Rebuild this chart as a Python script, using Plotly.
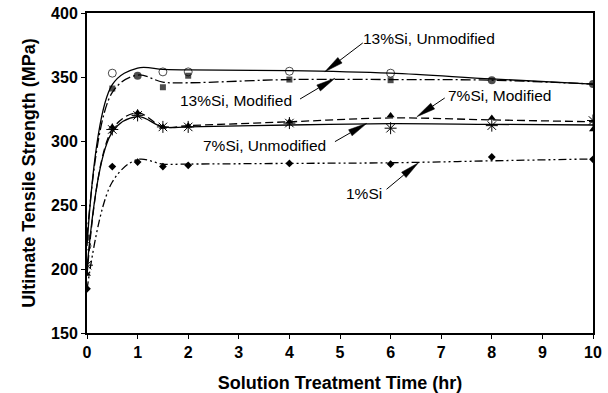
import math
import plotly.graph_objects as go

# ---- data ----
time_hr = [0, 0.5, 1, 1.5, 2, 4, 6, 8, 10]

# measured points (markers)
si13_unmod_pts = [218, 353, 356, 354, 354, 354.5, 353, 348, 344.5]
si13_mod_pts = [224.5, 341, 351, 342, 351, 348, 347.5, 347.5, 344.5]
si7_mod_pts = [196, 311, 322, 311, 312, 315, 320, 318, 309]
si7_unmod_pts = [203, 309, 320, 311, 311, 314, 310, 312, 316]
si1_pts = [184.5, 280, 283.5, 280, 281, 282.5, 282, 287.5, 285.7]

# smoothed trend curves
si13_unmod_fit = [218, 344, 357, 356, 355.5, 355, 353, 348.5, 344.5]
si13_mod_fit = [224.5, 338, 351.5, 346, 345.5, 348, 348, 347.5, 344.5]
si7_mod_fit = [195, 309, 322, 311, 312, 315, 318, 316.5, 315]
si7_unmod_fit = [200, 307, 319, 311, 311, 312.5, 313.5, 313, 312.5]
si1_fit = [184, 268, 285.5, 282, 282, 282.5, 283, 284.5, 286]

x_ticks = list(range(0, 11))
y_ticks = [150, 200, 250, 300, 350, 400]

labels = ["13%Si, Unmodified", "13%Si, Modified", "7%Si, Modified",
          "7%Si, Unmodified", "1%Si"]

X_RANGE = [0, 10]
Y_RANGE = [150, 400]
W, H = 608, 393
M = dict(l=87, r=15, t=13, b=60)

FONT = "Liberation Sans, Arial, sans-serif"
fig = go.Figure()

def curve(y, dash):
    fig.add_trace(go.Scatter(x=time_hr, y=y, mode="lines",
                             line=dict(color="black", width=1.3, dash=dash,
                                       shape="spline", smoothing=1.0),
                             hoverinfo="skip", showlegend=False))

curve(si13_unmod_fit, "solid")
curve(si13_mod_fit, "10px,3px,2px,3px")
curve(si7_mod_fit, "8px,4px")
curve(si7_unmod_fit, "solid")
curve(si1_fit, "8px,3px,2px,3px,2px,3px")

def pts(y, symbol, size, lw=1):
    fig.add_trace(go.Scatter(x=time_hr, y=y, mode="markers",
                             marker=dict(color="black", symbol=symbol, size=size,
                                         line=dict(color="black", width=lw)),
                             showlegend=False))

pts(si13_unmod_pts, "circle-open", [8, 8, 0, 8, 8, 8, 8, 0, 0])
pts(si13_mod_pts, ["square", "square", "circle", "square", "square", "square",
                   "square", "circle", "circle"], [6, 6, 8, 6, 6, 6, 6, 8, 8], 0)
pts(si7_mod_pts, "triangle-up", 7, 0)
pts(si7_unmod_pts, "asterisk-open", 10, 1)
pts(si1_pts, "diamond", 6, 0)

# annotations: (text, text x, text y, tail x, tail y, tip x, tip y)
ann = [
    (labels[0], 6.76, 379.7, 5.45, 376.6, 4.70, 354.1),
    (labels[1], 2.94, 331.3, 4.21, 332.8, 4.90, 349.0),
    (labels[2], 8.16, 335.2, 7.07, 333.6, 6.52, 319.0),
    (labels[3], 3.50, 296.1, 4.90, 299.5, 5.53, 313.8),
    (labels[4], 5.47, 258.6, 5.92, 262.3, 6.55, 283.0),
]

pw = W - M["l"] - M["r"]
ph = H - M["t"] - M["b"]
sx = pw / (X_RANGE[1] - X_RANGE[0])
sy = ph / (Y_RANGE[1] - Y_RANGE[0])
HEAD_L, HEAD_W = 19, 7

for t, tx, ty, ax_, ay_, hx, hy in ann:
    fig.add_annotation(x=tx, y=ty, text=t, showarrow=False,
                       font=dict(family=FONT, size=15.5, color="black"))
    dx = (hx - ax_) * sx
    dy = (hy - ay_) * sy
    d = math.hypot(dx, dy)
    ux, uy = dx / d, dy / d
    nx, ny = -uy, ux
    bx = hx - HEAD_L * ux / sx
    by = hy - HEAD_L * uy / sy
    c1 = (bx + HEAD_W / 2 * nx / sx, by + HEAD_W / 2 * ny / sy)
    c2 = (bx - HEAD_W / 2 * nx / sx, by - HEAD_W / 2 * ny / sy)
    fig.add_shape(type="line", x0=ax_, y0=ay_, x1=bx, y1=by, xref="x", yref="y",
                  line=dict(color="black", width=1))
    fig.add_shape(type="path", xref="x", yref="y",
                  path=f"M {hx},{hy} L {c1[0]},{c1[1]} L {c2[0]},{c2[1]} Z",
                  fillcolor="black", line=dict(color="black", width=0.5))

axis_common = dict(showline=True, linecolor="black", linewidth=2, mirror=True,
                   ticks="outside", ticklen=4, tickcolor="black", tickwidth=1,
                   showgrid=False, zeroline=False, automargin=False,
                   tickfont=dict(family=FONT, size=16, color="black", weight="bold"))

fig.update_layout(
    width=W, height=H,
    margin=M,
    paper_bgcolor="white", plot_bgcolor="white",
    xaxis=dict(range=X_RANGE, tickvals=x_ticks, **axis_common,
               title=dict(text="Solution Treatment Time (hr)", standoff=18,
                          font=dict(family=FONT, size=18, color="black", weight="bold"))),
    yaxis=dict(range=Y_RANGE, tickvals=y_ticks, **axis_common,
               title=dict(text="Ultimate Tensile Strength (MPa)", standoff=11,
                          font=dict(family=FONT, size=18, color="black", weight="bold"))),
)

fig.write_html("out.html", config={"displayModeBar": False},
               post_script="document.body.style.margin='0px';document.body.style.padding='0px';")
